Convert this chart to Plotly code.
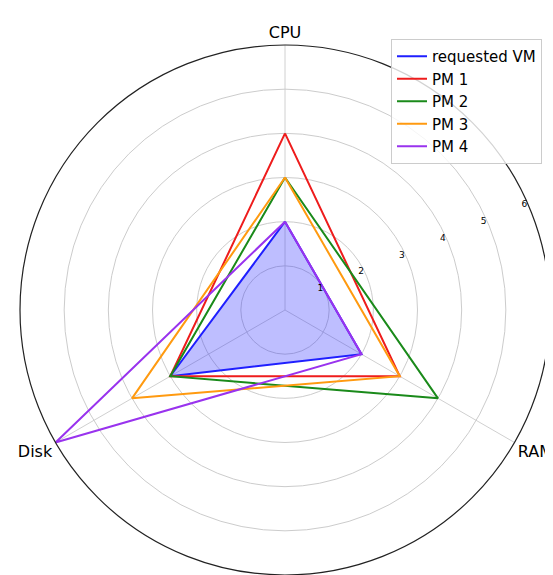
import plotly.graph_objects as go

categories = ["CPU", "RAM", "Disk"]
requested_vm = [2, 2, 3]
pm1 = [4, 3, 3]
pm2 = [3, 4, 3]
pm3 = [3, 3, 4]
pm4 = [2, 2, 6]
radial_ticks = [1, 2, 3, 4, 5, 6]

series = [
    ("requested VM", requested_vm, "#1f1fff"),
    ("PM 1", pm1, "#ee1c1c"),
    ("PM 2", pm2, "#1a8a1a"),
    ("PM 3", pm3, "#ff9a10"),
    ("PM 4", pm4, "#9933ee"),
]

fig = go.Figure()
# filled area of the requested VM (no outline, no legend entry)
fig.add_trace(go.Scatterpolar(
    r=requested_vm + requested_vm[:1],
    theta=categories + categories[:1],
    mode="lines", line=dict(width=0, color="rgba(0,0,0,0)"),
    fill="toself", fillcolor="rgba(40,40,255,0.3)",
    showlegend=False, hoverinfo="skip",
))
for name, vals, color in series:
    fig.add_trace(go.Scatterpolar(
        r=vals + vals[:1],
        theta=categories + categories[:1],
        mode="lines",
        name=name,
        line=dict(color=color, width=2),
    ))

fig.update_layout(
    width=553, height=575,
    margin=dict(l=0, r=0, t=0, b=0),
    paper_bgcolor="white",
    font=dict(family="DejaVu Sans", color="black"),
    polar=dict(
        domain=dict(x=[12/553, 542/553], y=[8/575, 538/575]),
        bgcolor="white",
        angularaxis=dict(
            rotation=90, direction="clockwise",
            showline=True, linecolor="#222222", linewidth=1.2,
            showgrid=True, gridcolor="#d0d0d0", gridwidth=1,
            ticks="", tickfont=dict(size=16, family="DejaVu Sans"),
        ),
        radialaxis=dict(
            range=[0, 6], angle=22.5, tickangle=22.5,
            side="counterclockwise",
            tickvals=radial_ticks, ticktext=[str(v) for v in radial_ticks],
            showline=False, ticks="",
            showgrid=True, gridcolor="#cccccc", gridwidth=1,
            tickfont=dict(size=9, family="DejaVu Sans"),
        ),
    ),
    legend=dict(
        x=383/553, y=(575-31)/575, xanchor="left", yanchor="top",
        bgcolor="rgba(255,255,255,0.8)", bordercolor="#cccccc", borderwidth=1,
        font=dict(size=15, family="DejaVu Sans"),
        tracegroupgap=0,
    ),
)

fig.write_html("out.html")
